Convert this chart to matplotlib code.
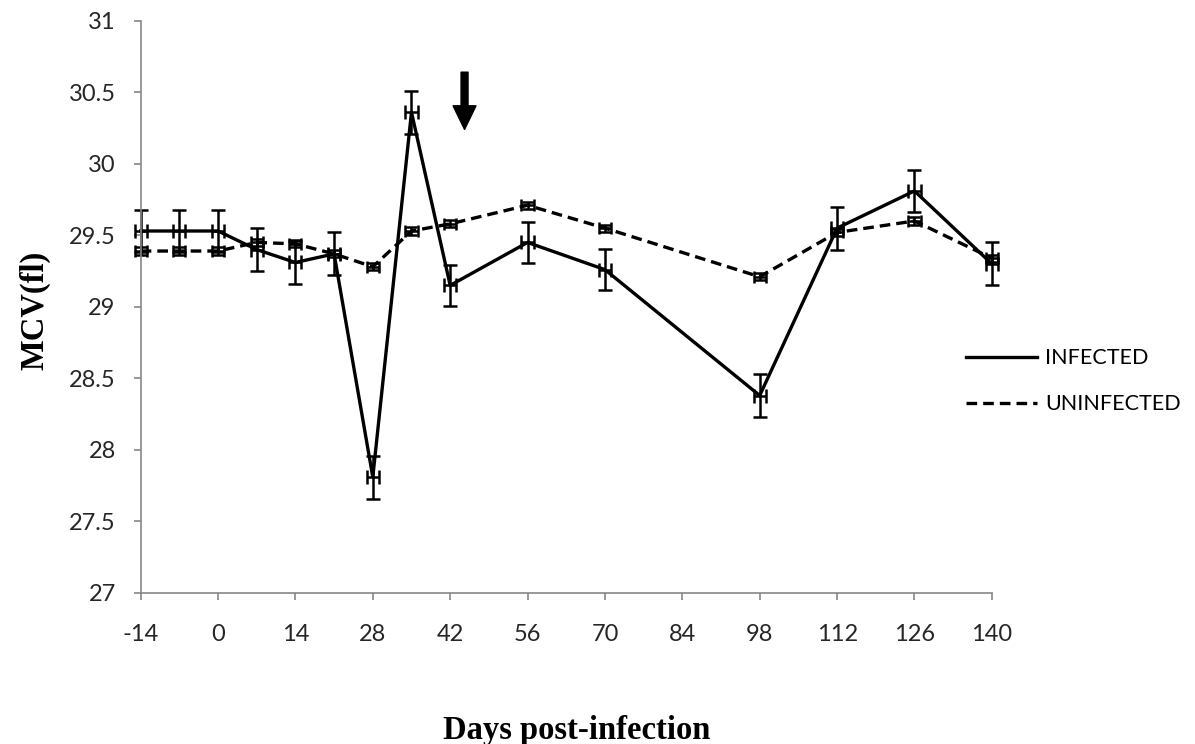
import matplotlib
matplotlib.use("Agg")
import matplotlib.pyplot as plt
from matplotlib.lines import Line2D

# data
days = [-14, -7, 0, 7, 14, 21, 28, 35, 42, 56, 70, 98, 112, 126, 140]
infected = [29.53, 29.53, 29.53, 29.40, 29.31, 29.37, 27.81, 30.36, 29.15, 29.45, 29.26, 28.38, 29.55, 29.81, 29.30]
infected_err = [0.15, 0.15, 0.15, 0.15, 0.15, 0.15, 0.15, 0.15, 0.145, 0.145, 0.145, 0.15, 0.15, 0.145, 0.15]
uninfected = [29.39, 29.39, 29.39, 29.45, 29.44, 29.37, 29.28, 29.53, 29.58, 29.71, 29.55, 29.21, 29.52, 29.60, 29.34]
uninfected_err = [0.025] * len(days)
day_err = 1.1

xticks = [-14, 0, 14, 28, 42, 56, 70, 84, 98, 112, 126, 140]
yticks = [27, 27.5, 28, 28.5, 29, 29.5, 30, 30.5, 31]
ytick_labels = ["27", "27.5", "28", "28.5", "29", "29.5", "30", "30.5", "31"]

arrow_day = 44.6
arrow_top, arrow_tip = 30.64, 30.24

tick_font = "Lato"
title_font = "Liberation Serif"
axis_grey = "#868686"

fig = plt.figure(figsize=(11.95, 7.44), dpi=100)
ax = fig.add_axes([0.1177, 0.2030, 0.830 - 0.1177, 0.9722 - 0.2030])

ax.errorbar(days, infected, yerr=infected_err, xerr=day_err, color="black",
            linewidth=2.4, elinewidth=1.8, capsize=4.8, capthick=1.8, clip_on=False)
ax.errorbar(days, uninfected, yerr=uninfected_err, xerr=day_err, color="black",
            linewidth=2.4, elinewidth=1.8, capsize=4.2, capthick=1.8,
            linestyle=(0, (3.2, 1.8)), clip_on=False)

# arrow marking treatment day
ax.annotate("", xy=(arrow_day, arrow_tip), xytext=(arrow_day, arrow_top),
            arrowprops=dict(facecolor="black", edgecolor="black", width=5,
                            headwidth=16.5, headlength=17, shrink=0))

ax.set_xlim(-14, 140)
ax.set_ylim(27, 31)
ax.set_xticks(xticks)
ax.set_xticklabels([str(t) for t in xticks], fontfamily=tick_font, fontsize=17)
ax.set_yticks(yticks)
ax.set_yticklabels(ytick_labels, fontfamily=tick_font, fontsize=17)

for side in ["top", "right"]:
    ax.spines[side].set_visible(False)
for side in ["left", "bottom"]:
    ax.spines[side].set_color(axis_grey)
    ax.spines[side].set_linewidth(1.2)
ax.tick_params(axis="both", direction="out", color=axis_grey, length=5, width=1.2,
               labelcolor="#262626")
ax.tick_params(axis="x", pad=17)
ax.tick_params(axis="y", pad=13)

fig.text(0.029, 0.583, "MCV(fl)", rotation=90, ha="center", va="center",
         fontfamily=title_font, fontweight="bold", fontsize=23.5)
fig.text(0.483, 0.018, "Days post-infection", ha="center", va="center",
         fontfamily=title_font, fontweight="bold", fontsize=23.5)

handles = [Line2D([], [], color="black", linewidth=2.4),
           Line2D([], [], color="black", linewidth=2.4, linestyle=(0, (3.2, 1.8)))]
fig.legend(handles, ["INFECTED", "UNINFECTED"], loc="upper left",
           bbox_to_anchor=(0.792, 0.558), frameon=False, handlelength=3.3,
           handletextpad=0.4, labelspacing=1.2,
           prop={"family": tick_font, "size": 15.5})

fig.savefig("out.png", dpi=100)
